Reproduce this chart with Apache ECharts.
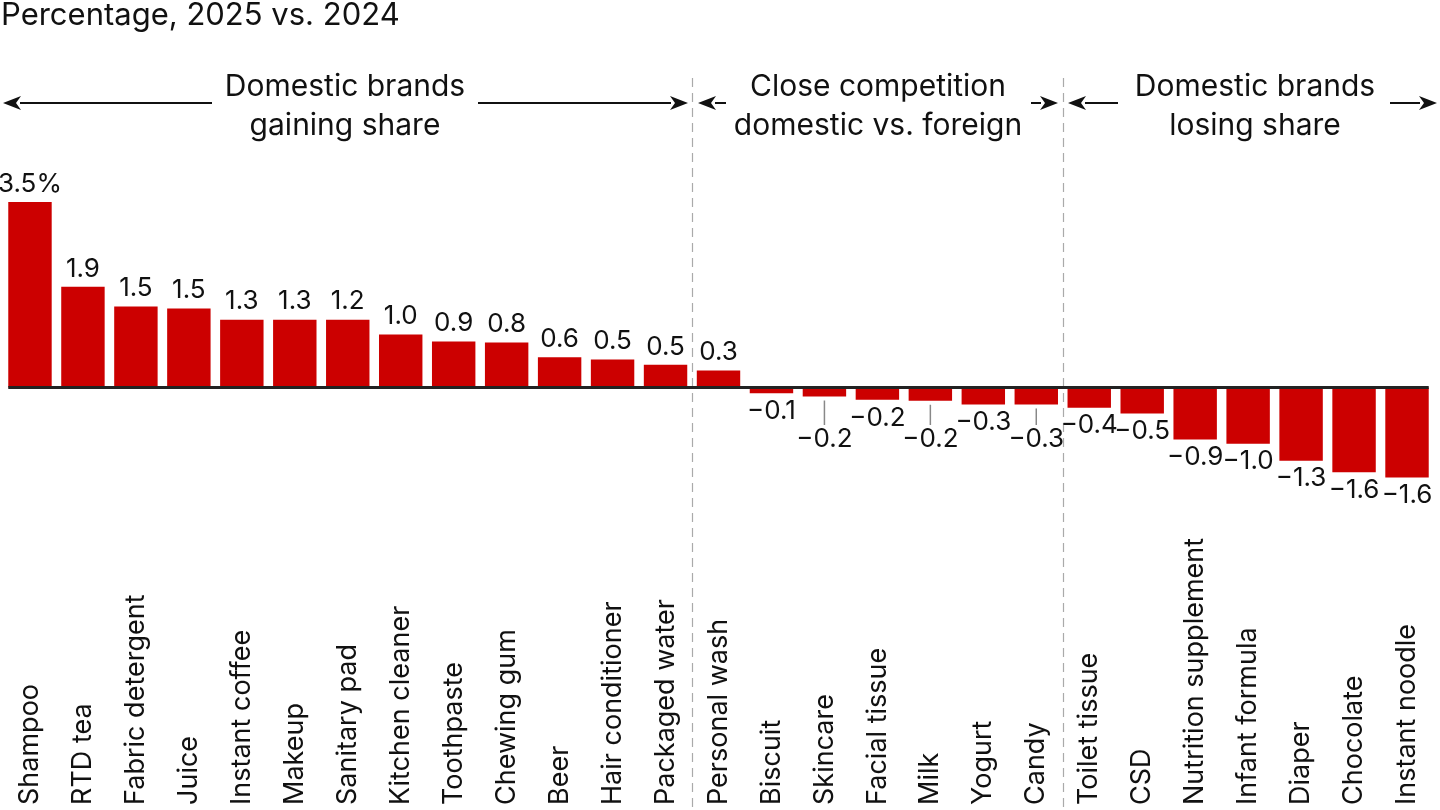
<!DOCTYPE html>
<html>
<head>
<meta charset="utf-8">
<script src="https://cdn.jsdelivr.net/npm/echarts@6/dist/echarts.min.js"></script>
<style>
  html, body { margin: 0; padding: 0; background: #fff; }
  #main { width: 1440px; height: 810px; }
</style>
</head>
<body>
<div id="main"></div>
<script>
// categories, left to right
var categories = ['Shampoo', 'RTD tea', 'Fabric detergent', 'Juice', 'Instant coffee', 'Makeup',
  'Sanitary pad', 'Kitchen cleaner', 'Toothpaste', 'Chewing gum', 'Beer', 'Hair conditioner',
  'Packaged water', 'Personal wash', 'Biscuit', 'Skincare', 'Facial tissue', 'Milk', 'Yogurt',
  'Candy', 'Toilet tissue', 'CSD', 'Nutrition supplement', 'Infant formula', 'Diaper',
  'Chocolate', 'Instant noodle'];

// bar heights (percentage points)
var shareChange = [3.5, 1.9, 1.53, 1.49, 1.28, 1.28, 1.28, 1.0, 0.87, 0.85, 0.57, 0.53,
  0.43, 0.32, -0.11, -0.17, -0.23, -0.25, -0.32, -0.32, -0.38, -0.49, -0.98, -1.06,
  -1.38, -1.6, -1.7];

// printed value labels
var valueLabels = ['3.5%', '1.9', '1.5', '1.5', '1.3', '1.3', '1.2', '1.0', '0.9', '0.8', '0.6', '0.5',
  '0.5', '0.3', '\u22120.1', '\u22120.2', '\u22120.2', '\u22120.2', '\u22120.3', '\u22120.3',
  '\u22120.4', '\u22120.5', '\u22120.9', '\u22121.0', '\u22121.3', '\u22121.6', '\u22121.6'];

// labels pushed down with a leader line
var leaderIdx = [15, 17, 19];

// group boundaries (index of first category of next group)
var groupStarts = [13, 20];

var FONT = 'Inter, "Noto Sans", sans-serif';
var INK = '#111';
var LABEL_SIZE = 26;
var LABEL_DIST = 5;
var BAR_RATIO = 0.82;
var LEADER_LABEL_Y = 442;  // centre line of the pushed-down labels
var LEADER_END_Y = 425;

var chart = echarts.init(document.getElementById('main'));

var option = {
  backgroundColor: '#fff',
  animation: false,
  textStyle: { fontFamily: FONT },
  grid: { left: 3.5, right: 6.5, top: 202, bottom: 316.5, containLabel: false },
  xAxis: {
    type: 'category',
    data: categories,
    position: 'bottom',
    offset: 311.5,
    axisLine: { show: false, onZero: false },
    axisTick: { show: false },
    axisLabel: {
      interval: 0,
      rotate: 90,
      align: 'left',
      verticalAlign: 'middle',
      margin: 0,
      fontSize: 27,
      color: INK,
      fontFamily: FONT
    }
  },
  yAxis: {
    type: 'value',
    min: -2,
    max: 3.5,
    show: false,
    splitLine: { show: false }
  },
  series: [{
    type: 'bar',
    barWidth: (BAR_RATIO * 100) + '%',
    itemStyle: { color: '#cc0000' },
    label: {
      show: true,
      distance: LABEL_DIST,
      fontSize: LABEL_SIZE,
      color: INK,
      fontFamily: FONT,
      formatter: function (p) { return valueLabels[p.dataIndex]; }
    },
    z: 2
  }, {
    // leader lines for the pushed-down labels
    type: 'custom',
    silent: true,
    data: leaderIdx.map(function (i) { return [i, shareChange[i]]; }),
    renderItem: function (params, api) {
      var p = api.coord([api.value(0), api.value(1)]);
      return {
        type: 'line',
        shape: { x1: p[0], y1: p[1] + 4, x2: p[0], y2: LEADER_END_Y },
        style: { stroke: '#888', lineWidth: 1.5 }
      };
    },
    z: 1
  }]
};
chart.setOption(option);

// bar data with per-item label placement (needs the y scale for leader offsets)
var barData = shareChange.map(function (v, i) {
  var item = {
    value: v,
    label: { position: v < 0 ? 'bottom' : 'top' }
  };
  if (leaderIdx.indexOf(i) >= 0) {
    var y = chart.convertToPixel({ yAxisIndex: 0 }, v);
    var normalCentre = y + LABEL_DIST + LABEL_SIZE * 0.62;
    item.label.offset = [0, LEADER_LABEL_Y - normalCentre];
  }
  return item;
});

// decorations: zero line, group separators, arrows and headers
function arrow(tail, tip, y) {
  var dir = tip > tail ? 1 : -1;
  var base = tip - dir * 17;
  return [{
    type: 'line',
    shape: { x1: tail, y1: y, x2: base, y2: y },
    style: { stroke: INK, lineWidth: 2 }
  }, {
    type: 'polygon',
    shape: { points: [[tip, y], [base - dir * 1, y - 7], [base + dir * 4, y], [base - dir * 1, y + 7]] },
    style: { fill: INK }
  }];
}

var first = chart.convertToPixel({ xAxisIndex: 0 }, 0);
var second = chart.convertToPixel({ xAxisIndex: 0 }, 1);
var last = chart.convertToPixel({ xAxisIndex: 0 }, categories.length - 1);
var halfBar = (second - first) * BAR_RATIO / 2;
var zeroY = chart.convertToPixel({ yAxisIndex: 0 }, 0);

var graphics = [{
  type: 'text',
  left: 1, top: 0,
  style: { text: 'Percentage, 2025 vs. 2024', font: '31px ' + FONT, fill: INK }
}, {
  type: 'line',
  z: 10,
  shape: { x1: first - halfBar, y1: zeroY, x2: last + halfBar, y2: zeroY },
  style: { stroke: '#222', lineWidth: 3 }
}];

groupStarts.forEach(function (idx) {
  var a = chart.convertToPixel({ xAxisIndex: 0 }, idx - 1);
  var b = chart.convertToPixel({ xAxisIndex: 0 }, idx);
  var x = Math.round((a + b) / 2) + 0.5;
  graphics.push({
    type: 'line',
    shape: { x1: x, y1: 78, x2: x, y2: 810 },
    style: { stroke: '#aaa', lineWidth: 1.2, lineDash: [9, 6] }
  });
});

var headers = [
  { text: 'Domestic brands\ngaining share', x: 345, arrows: [[212, 3], [478, 688]] },
  { text: 'Close competition\ndomestic vs. foreign', x: 878, arrows: [[726, 698], [1031, 1058]] },
  { text: 'Domestic brands\nlosing share', x: 1255, arrows: [[1118, 1068], [1390, 1437]] }
];
headers.forEach(function (h) {
  graphics.push({
    type: 'text',
    x: h.x, y: 106,
    style: {
      text: h.text, font: '30px ' + FONT, fill: INK,
      align: 'center', verticalAlign: 'middle', lineHeight: 39
    }
  });
  h.arrows.forEach(function (ar) {
    graphics = graphics.concat(arrow(ar[0], ar[1], 103));
  });
});

chart.setOption({ series: [{ data: barData }], graphic: graphics });
</script>
</body>
</html>
